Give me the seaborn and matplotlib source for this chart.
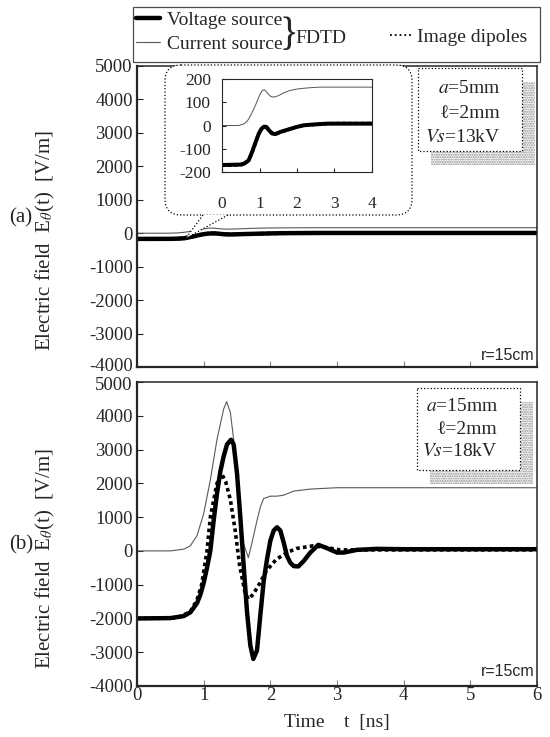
import numpy as np
import seaborn as sns
import matplotlib.pyplot as plt
import matplotlib.transforms as mtransforms
from matplotlib.lines import Line2D
from matplotlib.patches import FancyBboxPatch, Rectangle, Polygon

# ---- data ----
# panel (a): a=5mm, Vs=13kV  (also shown in the zoomed inset)
t_a_volt = [0, 0.5, 0.6, 0.71, 0.8, 0.9, 0.98, 1.05, 1.12, 1.18, 1.25, 1.33, 1.42, 1.55, 1.73, 2.0, 2.18, 2.5, 2.8, 4.0, 6.0]
e_a_volt = [-170, -168, -163, -150, -115, -70, -35, -15, -5, -6, -20, -34, -37, -28, -19, -6, 1, 5, 8, 8, 8]
t_a_curr = [0, 0.45, 0.6, 0.7, 0.8, 0.9, 1.0, 1.07, 1.13, 1.2, 1.29, 1.38, 1.5, 1.64, 1.8, 2.0, 2.3, 2.62, 3.0, 4.0, 6.0]
e_a_curr = [0, 0, 8, 25, 55, 90, 130, 150, 154, 142, 126, 122, 128, 140, 150, 157, 162, 165, 165, 165, 165]
t_a_img = [0, 0.5, 0.6, 0.7, 0.8, 0.9, 0.98, 1.05, 1.12, 1.2, 1.27, 1.35, 1.45, 1.6, 1.8, 2.0, 2.3, 2.6, 3.0, 4.0, 6.0]
e_a_img = [-172, -170, -165, -152, -118, -72, -36, -14, -4, -8, -22, -33, -35, -26, -16, -5, 2, 6, 9, 9, 9]

# panel (b): a=15mm, Vs=18kV
t_b_volt = [0, 0.5, 0.7, 0.8, 0.9, 0.95, 1.0, 1.05, 1.1, 1.15, 1.2, 1.25, 1.3, 1.35, 1.41, 1.45, 1.5, 1.55,
            1.6, 1.65, 1.7, 1.745, 1.8, 1.85, 1.9, 1.95, 2.0, 2.05, 2.1, 2.15, 2.2, 2.25, 2.3, 2.35, 2.42,
            2.5, 2.6, 2.72, 2.85, 3.0, 3.1, 3.3, 3.6, 4.0, 5.0, 6.0]
e_b_volt = [-2000, -1990, -1930, -1820, -1550, -1300, -950, -500, 0, 900, 1700, 2350, 2800, 3150, 3290, 3150, 2300, 1000,
            -440, -1800, -2800, -3200, -2950, -1900, -900, -250, 300, 600, 700, 600, 250, -150, -350, -450, -460,
            -300, -50, 180, 80, -50, -50, 30, 60, 50, 50, 50]
t_b_curr = [0, 0.5, 0.7, 0.8, 0.9, 1.0, 1.1, 1.2, 1.3, 1.345, 1.4, 1.45, 1.5, 1.55, 1.6, 1.67, 1.72, 1.8, 1.85,
            1.9, 2.0, 2.1, 2.2, 2.35, 2.6, 3.0, 4.0, 5.0, 6.0]
e_b_curr = [0, 0, 50, 150, 450, 1100, 2100, 3300, 4200, 4420, 4100, 3300, 2100, 1000, 200, -200, 200, 900, 1300,
            1550, 1620, 1620, 1650, 1770, 1830, 1870, 1870, 1870, 1870]
t_b_img = [0, 0.6, 0.8, 0.9, 0.97, 1.05, 1.1, 1.2, 1.27, 1.33, 1.4, 1.47, 1.54, 1.62, 1.67, 1.745, 1.85, 1.94,
           2.09, 2.25, 2.39, 2.64, 2.84, 3.04, 4.0, 5.0, 6.0]
e_b_img = [-2000, -1990, -1800, -1450, -1000, 0, 1000, 2000, 2280, 2050, 1520, 640, -440, -1230, -1430, -1280,
           -930, -590, -250, -50, 70, 150, 100, 30, 30, 30, 30]

W, H = 550, 737

sns.set_style('ticks')
plt.rcParams['font.family'] = ['Liberation Serif', 'DejaVu Serif']
plt.rcParams['mathtext.fontset'] = 'stix'
plt.rcParams['axes.unicode_minus'] = False


def box(l, t, r, b):
    # pixel box -> figure fraction [left, bottom, width, height]
    return [l / W, 1 - b / H, (r - l) / W, (b - t) / H]


def draw(ax, tv, ev, tc, ec, ti, ei, lw_scale=1.0):
    sns.lineplot(x=tc, y=ec, ax=ax, color='0.35', lw=0.8 * lw_scale, label='Current source', legend=False)
    sns.lineplot(x=tv, y=ev, ax=ax, color='k', lw=3.2 * lw_scale, label='Voltage source', legend=False)
    sns.lineplot(x=ti, y=ei, ax=ax, color='k', lw=2.6 * lw_scale, label='Image dipoles', legend=False)
    ax.get_lines()[-1].set_dashes([1.0, 0.9])


fig = plt.figure(figsize=(W / 100, H / 100), dpi=100)
ax_a = fig.add_axes(box(137, 66, 537, 367))
ax_b = fig.add_axes(box(137, 382, 537, 686))

draw(ax_a, t_a_volt, e_a_volt, t_a_curr, e_a_curr, t_a_img, e_a_img)
draw(ax_b, t_b_volt, e_b_volt, t_b_curr, e_b_curr, t_b_img, e_b_img)

for ax in (ax_a, ax_b):
    ax.set_xlim(0, 6)
    ax.set_ylim(-4000, 5000)
    ax.set_yticks(range(-4000, 5001, 1000))
    ax.set_xticks(range(0, 7))
    ax.tick_params(direction='in', length=4, labelsize=13.5, pad=3)
    ax.tick_params(axis='x', color='0.5', pad=1)
    for s in ax.spines.values():
        s.set_linewidth(1.1)
    ax.spines['left'].set_linewidth(1.6)
    ax.spines['bottom'].set_linewidth(1.6)
    ax.set_xlabel('')
    ax.set_ylabel('')
ax_a.set_xticklabels([])

# nudge the two labels that meet at the panel join apart
lab_low = ax_a.get_yticklabels()[0]
lab_low.set_transform(lab_low.get_transform() + mtransforms.ScaledTranslation(0, 3 / 100, fig.dpi_scale_trans))
lab_top = ax_b.get_yticklabels()[-1]
lab_top.set_transform(lab_top.get_transform() + mtransforms.ScaledTranslation(0, -2 / 100, fig.dpi_scale_trans))

# overlay in pixel coordinates for callout, parameter boxes and legend frame
ov = fig.add_axes([0, 0, 1, 1])
ov.set_xlim(0, W)
ov.set_ylim(H, 0)
ov.axis('off')
ov.patch.set_alpha(0)

ov.add_patch(FancyBboxPatch((165, 65), 247, 150, boxstyle='round,pad=0,rounding_size=16',
                            fc='white', ec='k', lw=0.9, ls=':'))
ov.add_patch(Polygon([(203, 214.6), (186, 238), (228, 214.6)], closed=True, fc='white', ec='none'))
ov.plot([203, 186], [215, 238], color='k', lw=0.9, ls=':')
ov.plot([228, 190], [215, 236], color='k', lw=0.9, ls=':')

params = [((418, 68, 522, 151), ['$a$=5mm', 'ℓ=2mm', '$Vs$=13kV'], 501, [88, 113, 137]),
          ((417, 388, 520, 470), ['$a$=15mm', 'ℓ=2mm', '$Vs$=18kV'], 498, [406, 429, 451])]
for (l, t, r, b), lines, xr, ys in params:
    ov.add_patch(Rectangle((l + 13, t + 14), r - l, b - t, fc='white', ec='0.55', lw=0,
                           hatch='.......'))
    ov.add_patch(Rectangle((l, t), r - l, b - t, fc='white', ec='k', lw=0.9, ls=':'))
    for txt, y in zip(lines, ys):
        ov.text(xr, y, txt, ha='right', va='center', fontsize=14)

for y in (355, 671):
    ov.text(534, y, 'r=15cm', ha='right', va='center', fontsize=11.5, family='Liberation Sans')

# legend frame at the top
ov.add_patch(Rectangle((133, 7), 407, 55, fc='white', ec='0.3', lw=0.9))
hv = ax_a.get_lines()[1]
hc = ax_a.get_lines()[0]
hi = Line2D([], [], color='k', lw=1.3, ls=':')
fig.legend(handles=[hv, hc], labels=['Voltage source', 'Current source'], loc='upper left',
           bbox_to_anchor=(136 / W, 1 - 11 / H), frameon=False, fontsize=14,
           borderpad=0, borderaxespad=0, handlelength=1.25, handletextpad=0.35, labelspacing=0.35)
fig.legend(handles=[hi], labels=['Image dipoles'], loc='center left',
           bbox_to_anchor=(390 / W, 1 - 37 / H), frameon=False, fontsize=14,
           borderpad=0, borderaxespad=0, handlelength=1.1, handletextpad=0.3)
ov.text(289, 35, '}', ha='center', va='center', fontsize=28)
ov.text(295, 38, 'FDTD', ha='left', va='center', fontsize=14)

# inset: zoom of panel (a)
ins = fig.add_axes(box(222, 79, 372, 172))
draw(ins, t_a_volt, e_a_volt, t_a_curr, e_a_curr, t_a_img, e_a_img, lw_scale=0.9)
ins.set_xlim(0, 4)
ins.set_ylim(-200, 200)
ins.set_xticks(range(0, 5))
ins.set_yticks(range(-200, 201, 100))
ins.tick_params(direction='in', length=3, labelsize=12.5, pad=8)
ins.tick_params(axis='x', pad=17)
for s in ins.spines.values():
    s.set_linewidth(0.8)
ins.set_xlabel('')
ins.set_ylabel('')

# axis labels
ylab = 'Electric field  E$_{\\theta}$(t)  [V/m]'
fig.text(45 / W, 1 - 240 / H, ylab, rotation=90, ha='center', va='center', fontsize=15)
fig.text(45 / W, 1 - 558 / H, ylab, rotation=90, ha='center', va='center', fontsize=15)
fig.text(21 / W, 1 - 218 / H, '(a)', ha='center', va='center', fontsize=15)
fig.text(21 / W, 1 - 545 / H, '(b)', ha='center', va='center', fontsize=15)
fig.text(337 / W, 1 - 722 / H, 'Time    t  [ns]', ha='center', va='center', fontsize=14)

fig.savefig('out.png', dpi=100)
